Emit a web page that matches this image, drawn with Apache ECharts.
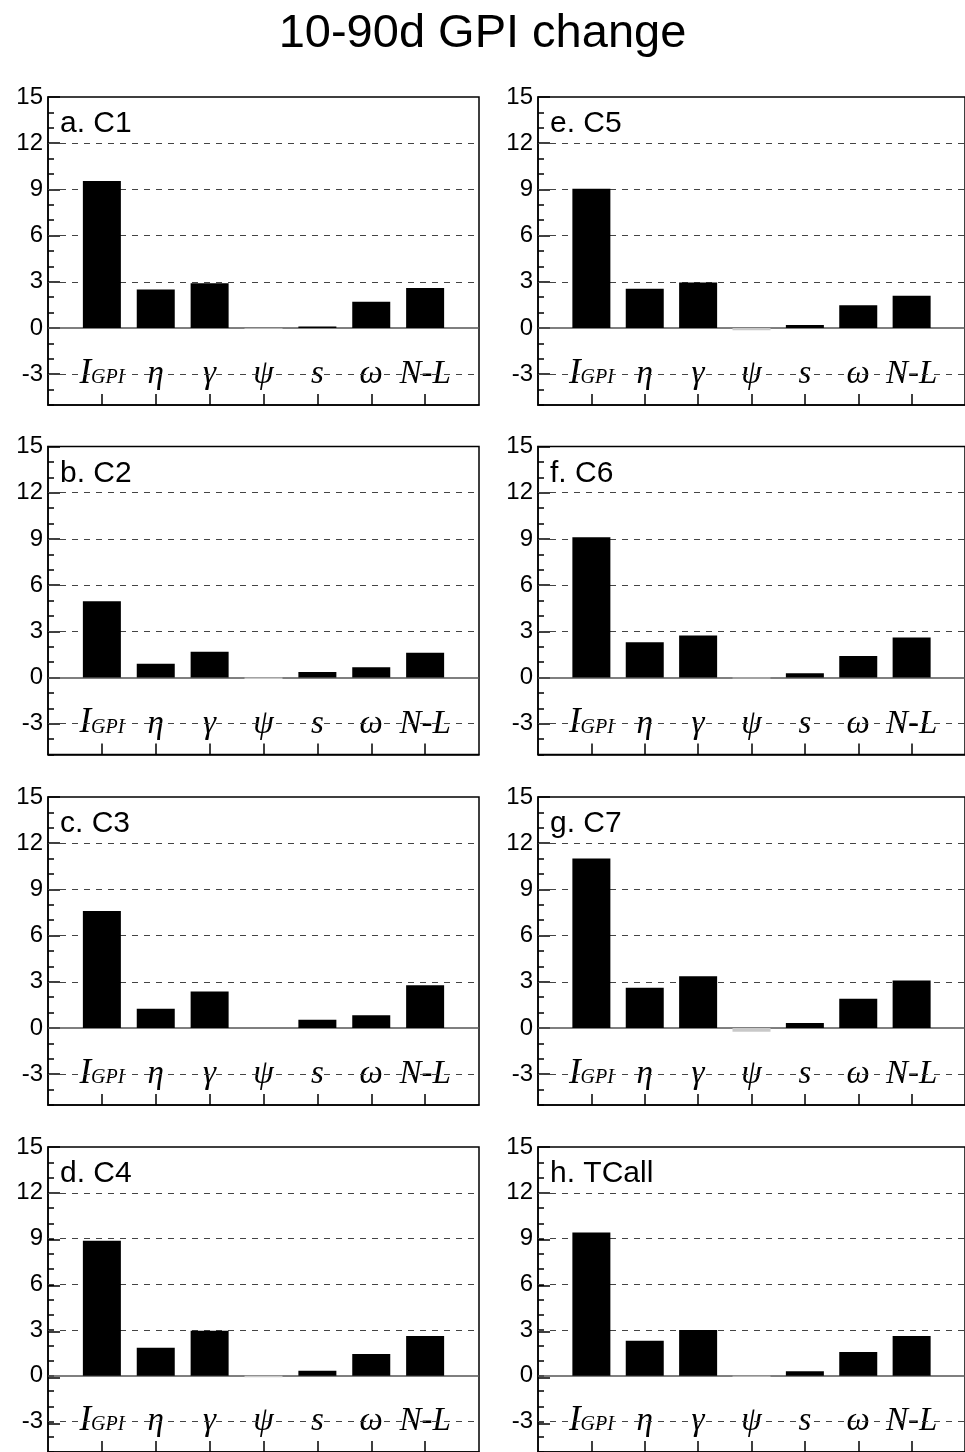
<!DOCTYPE html>
<html>
<head>
<meta charset="utf-8">
<script src="https://cdn.jsdelivr.net/npm/echarts@6/dist/echarts.min.js"></script>
<style>
html,body{margin:0;padding:0;background:#fff;}
#chart{width:965px;height:1452px;}
</style>
</head>
<body>
<div id="chart"></div>
<script>
// ---- data ----
const categories = ['I_GPI', 'η', 'γ', 'ψ', 's', 'ω', 'N-L'];
const panelNames = ['a. C1', 'b. C2', 'c. C3', 'd. C4', 'e. C5', 'f. C6', 'g. C7', 'h. TCall'];
const C1    = [9.55, 2.50, 2.90, -0.05, 0.10, 1.70, 2.60];
const C2    = [4.95, 0.90, 1.68, -0.10, 0.35, 0.67, 1.60];
const C3    = [7.60, 1.25, 2.37,  0.00, 0.54, 0.82, 2.78];
const C4    = [8.85, 1.84, 2.95, -0.10, 0.33, 1.43, 2.60];
const C5    = [9.05, 2.55, 2.95, -0.15, 0.20, 1.48, 2.10];
const C6    = [9.10, 2.29, 2.72, -0.06, 0.28, 1.40, 2.60];
const C7    = [11.0, 2.62, 3.36, -0.25, 0.32, 1.90, 3.08];
const TCall = [9.40, 2.30, 3.00, -0.07, 0.30, 1.56, 2.60];
const panelData = [C1, C2, C3, C4, C5, C6, C7, TCall];
const majorTicks = [-3, 0, 3, 6, 9, 12, 15];
const dashedLevels = [12, 9, 6, 3, -3];
const yMin = -5, yMax = 15;
const majorMin = -3, majorStep = 3;

// ---- layout ----
const colLeft = [48, 538];
const rowTop = [97, 446.5, 797, 1147];
const gridW = 431, gridH = 308;

const chart = echarts.init(document.getElementById('chart'), null, {renderer: 'canvas'});
const xCats = [''].concat(categories, ['']);

const titles = [{
  text: '10-90d GPI change',
  left: 'center', top: 6,
  textStyle: {fontFamily: 'Liberation Sans', fontSize: 47, fontWeight: 'normal', color: '#000'}
}];
const grids = [], xAxes = [], yAxes = [], series = [];
const n = panelNames.length;
// overlay grid spans only the major-tick range (-3..15) with the same px per unit
const majorFrac = (yMax - majorMin) / (yMax - yMin);

panelNames.forEach((name, i) => {
  const col = i < 4 ? 0 : 1;
  const row = i % 4;
  const left = colLeft[col], top = rowTop[row];
  grids[i] = {left: left, top: top, width: gridW, height: gridH, show: true,
    borderColor: '#000', borderWidth: 1.5, backgroundColor: 'transparent'};
  grids[n + i] = {left: left, top: top, width: gridW, height: gridH * majorFrac, show: false};
  titles.push({text: name, left: left + 7, top: top + 7,
    textStyle: {fontFamily: 'Liberation Sans', fontSize: 30, fontWeight: 'normal', color: '#000'}});
  xAxes[i] = {
    type: 'category', gridIndex: i, data: xCats, boundaryGap: false,
    axisLine: {show: true, onZero: false, lineStyle: {color: '#000', width: 1.5}},
    axisTick: {show: true, inside: true, length: 11, lineStyle: {color: '#000', width: 1.5},
      interval: (idx) => idx > 0 && idx < xCats.length - 1},
    axisLabel: {show: true, inside: true, margin: 14,
      interval: (idx) => idx > 0 && idx < xCats.length - 1,
      formatter: (v) => v === 'I_GPI' ? '{i|I}{g|GPI}' : '{t|' + v + '}',
      rich: {
        i: {fontFamily: 'Liberation Serif', fontStyle: 'italic', fontSize: 35, color: '#000', verticalAlign: 'bottom', lineHeight: 36},
        g: {fontFamily: 'Liberation Serif', fontStyle: 'italic', fontSize: 20, color: '#000', verticalAlign: 'bottom', lineHeight: 36, padding: [0, 0, 3, 0]},
        t: {fontFamily: 'Liberation Serif', fontStyle: 'italic', fontSize: 33, color: '#000', verticalAlign: 'bottom', lineHeight: 36}
      }},
    splitLine: {show: false}
  };
  xAxes[n + i] = {type: 'category', gridIndex: n + i, data: xCats, show: false, boundaryGap: false};
  yAxes[i] = {
    type: 'value', gridIndex: i, min: yMin, max: yMax, interval: 1,
    axisLine: {show: true, onZero: false, lineStyle: {color: '#000', width: 1.5}},
    axisTick: {show: true, inside: true, length: 6, lineStyle: {color: '#000', width: 1.5}},
    axisLabel: {show: true, margin: 5, color: '#000', fontFamily: 'Liberation Sans', fontSize: 24,
      formatter: (v) => majorTicks.indexOf(v) >= 0 ? String(v) : ''},
    splitLine: {show: false}
  };
  yAxes[n + i] = {
    type: 'value', gridIndex: n + i, min: majorMin, max: yMax, interval: majorStep, position: 'left',
    axisLine: {show: false, onZero: false},
    axisTick: {show: true, inside: true, length: 12, lineStyle: {color: '#000', width: 1.5}},
    axisLabel: {show: false},
    splitLine: {show: false}
  };
  const vals = panelData[i];
  const data = [null].concat(vals.map(v => ({value: v, itemStyle: {color: v < 0 ? '#c8c8c8' : '#000'}})), [null]);
  series.push({
    type: 'bar', xAxisIndex: i, yAxisIndex: i, barWidth: 38, z: 3,
    data: data,
    markLine: {
      silent: true, symbol: ['none', 'none'], label: {show: false}, z: 1, animation: false,
      data: dashedLevels.map(v => ({yAxis: v, lineStyle: {type: [6, 6], color: '#444', width: 1}}))
        .concat([{yAxis: 0, lineStyle: {type: 'solid', color: '#555', width: 1.5}}])
    }
  });
});

chart.setOption({
  animation: false,
  title: titles,
  grid: grids,
  xAxis: xAxes,
  yAxis: yAxes,
  series: series
});
</script>
</body>
</html>
